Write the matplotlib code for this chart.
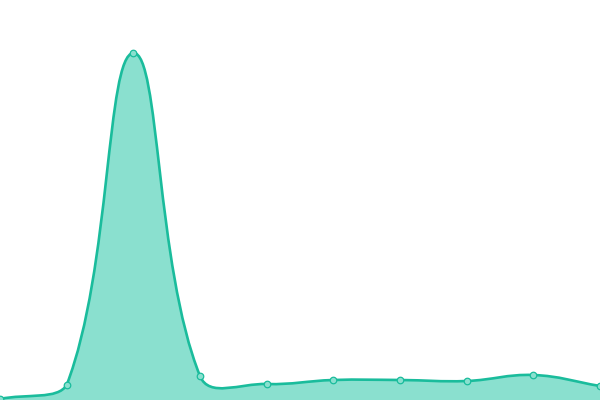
import matplotlib
matplotlib.use("Agg")
import matplotlib.pyplot as plt
import numpy as np
from matplotlib.path import Path
from matplotlib.patches import PathPatch

# values (bottom of the plot = 0)
x_idx = list(range(10))
values = [1, 15, 347, 24, 16, 20, 20, 19, 25, 14]

LINE = "#1abc9c"
FILL = "#8ae0cf"
W, H = 600, 400


def smooth_path(px, py, tension=0.4):
    """Cubic bezier through the points (spline control points, capped to the area)."""
    n = len(px)
    cps = []
    for k in range(n):
        prv = max(k - 1, 0)
        nxt = min(k + 1, n - 1)
        d01 = np.hypot(px[k] - px[prv], py[k] - py[prv])
        d12 = np.hypot(px[nxt] - px[k], py[nxt] - py[k])
        tot = d01 + d12
        s01 = d01 / tot if tot else 0
        s12 = d12 / tot if tot else 0
        vx, vy = px[nxt] - px[prv], py[nxt] - py[prv]
        cin = [px[k] - tension * s01 * vx, py[k] - tension * s01 * vy]
        cout = [px[k] + tension * s12 * vx, py[k] + tension * s12 * vy]
        for c in (cin, cout):
            c[0] = min(max(c[0], 0), W)
            c[1] = min(max(c[1], 0), H)
        cps.append((tuple(cin), tuple(cout)))
    verts = [(px[0], py[0])]
    codes = [Path.MOVETO]
    for k in range(1, n):
        verts += [cps[k - 1][1], cps[k][0], (px[k], py[k])]
        codes += [Path.CURVE4] * 3
    return verts, codes


fig = plt.figure(figsize=(6, 4), dpi=100)
ax = fig.add_axes([0, 0, 1, 1])
ax.set_xlim(0, W)
ax.set_ylim(0, H)
ax.axis("off")

px = np.array(x_idx) * W / (len(x_idx) - 1)
py = np.array(values, dtype=float)
verts, codes = smooth_path(px, py)

fill_verts = verts + [(px[-1], 0), (px[0], 0), verts[0]]
fill_codes = codes + [Path.LINETO, Path.LINETO, Path.CLOSEPOLY]
ax.add_patch(PathPatch(Path(fill_verts, fill_codes), facecolor=FILL, edgecolor="none"))
ax.add_patch(PathPatch(Path(verts, codes), facecolor="none", edgecolor=LINE, lw=1.9,
                       capstyle="round", joinstyle="round"))
ax.scatter(px, py, s=22, facecolor=FILL, edgecolor=LINE, linewidths=0.9, zorder=3,
           clip_on=False)

fig.savefig("out.png", dpi=100)
